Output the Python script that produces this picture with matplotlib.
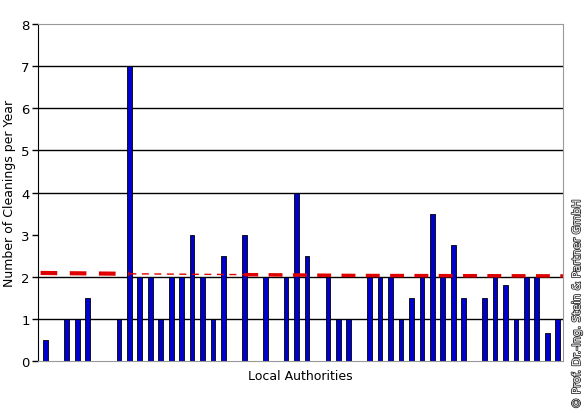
import matplotlib.pyplot as plt
import matplotlib.patheffects as pe

# cleanings per year for each local authority (0 = no bar)
cleanings = [0.5, 0, 1, 1, 1.5, 0, 0, 1, 7, 2,
             2, 1, 2, 2, 3, 2, 1, 2.5, 0, 3,
             0, 2, 0, 2, 4, 2.5, 0, 2, 1, 1,
             0, 2, 2, 2, 1, 1.5, 2, 3.5, 2, 2.75,
             1.5, 0, 1.5, 2, 1.8, 1, 2, 2, 0.67, 1]
slots = list(range(len(cleanings)))

# average line (red dashed), read at a few positions
avg_x = [-0.5, 8, 19, 30, 49.5]
avg_y = [2.09, 2.07, 2.05, 2.03, 2.02]

fig = plt.figure(figsize=(5.87, 4.14), dpi=100)
ax = fig.add_axes([0.0647, 0.1256, 0.8943, 0.814])

for y in [1, 2, 4, 5, 6, 7]:
    ax.axhline(y, color='black', lw=1, zorder=1)

ax.bar(slots, cleanings, width=0.45, color='#0000CC', edgecolor='black',
       linewidth=0.6, zorder=2)

# dashed average line, drawn in three pieces like the original
ax.plot(avg_x[:2], avg_y[:2], color='#E00000', lw=3, dashes=(4, 3), zorder=3)
ax.plot(avg_x[1:3], avg_y[1:3], color='#E00000', lw=1.0, dashes=(5, 4), zorder=3)
ax.plot(avg_x[2:], avg_y[2:], color='#E00000', lw=2.5, dashes=(4, 3), zorder=3)

ax.set_xlim(-0.75, 49.5)
ax.set_ylim(0, 8)
ax.set_yticks(range(9))
ax.set_xticks([])
ax.tick_params(axis='y', length=4, width=1, labelsize=9.5, pad=2)

ax.spines['left'].set_color('black')
for s in ['top', 'right', 'bottom']:
    ax.spines[s].set_color('#999999')

ax.set_ylabel('Number of Cleanings per Year', fontsize=9, labelpad=4)
ax.set_xlabel('Local Authorities', fontsize=9, labelpad=6)

fig.text(0.983, 0.01, '© Prof. Dr.-Ing. Stein & Partner GmbH', rotation=90,
         fontsize=8, ha='center', va='bottom', color='white',
         path_effects=[pe.withStroke(linewidth=1.2, foreground='#333333')])

fig.savefig('out.png', dpi=100)
